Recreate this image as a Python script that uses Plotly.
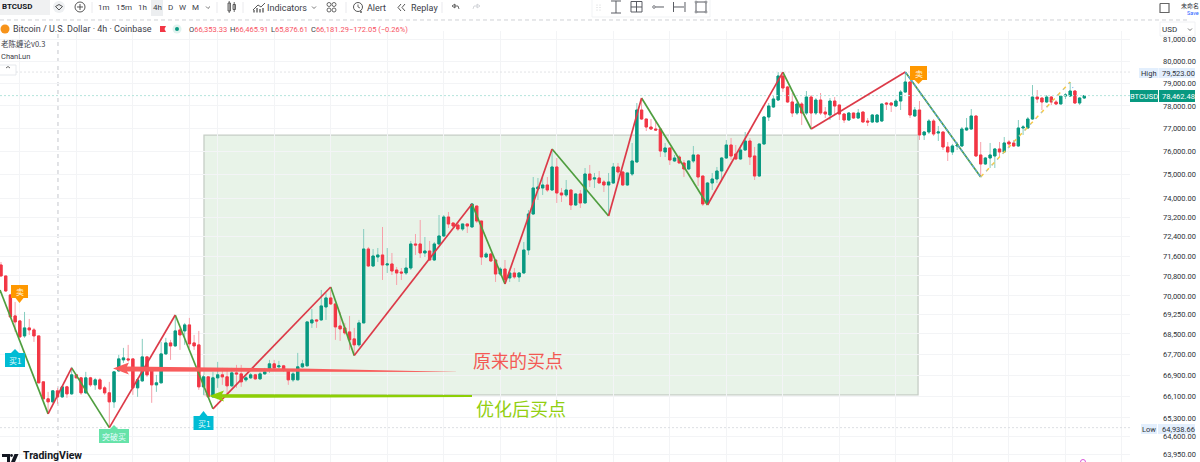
import math
import plotly.graph_objects as go

# ---- data ----
opens = [71245,70800,70039,69207,69010,68423,68735,68657,68423,66655,
66013,65900,66314,66088,66466,66201,66921,66807,66239,66807,
66541,66731,66428,66239,65900,67074,67495,67533,67533,66428,
66693,67610,67112,66541,66617,67726,68151,68035,68657,68618,
68853,68151,68074,66466,66845,66088,66807,66921,66845,66504,
66997,66959,66731,66807,66921,66769,66959,67150,67342,67227,
67265,67112,66731,66731,67227,67265,68931,69049,69049,69561,
69920,69681,68813,68735,68579,68307,68074,68931,71897,71204,
71570,71652,71245,71286,71042,70961,70921,71123,72103,72103,
71734,71815,71448,72103,72432,73220,72970,72887,72720,72929,
72804,73680,73053,71570,71693,71448,70880,71082,70720,70921,
70760,70921,71856,73345,74397,74440,74567,74355,75336,74228,
74144,74355,73722,74186,73807,75036,74822,74865,74695,74567,
74652,75336,75121,74567,75036,75551,77822,77424,77072,76984,
76984,75983,76156,75594,75767,75508,75250,75594,75853,74950,
73765,74652,74822,75164,75723,76286,75896,75680,76069,76460,
75810,74950,76330,77513,77955,78267,79345,78849,78178,77689,
78089,77689,78400,77689,78267,77733,77601,78222,78044,77645,
77380,77689,77468,77733,77336,77292,77292,77336,78133,78133,
78000,78222,78624,79074,77557,77822,76722,76853,77336,76809,
76853,76200,75983,76243,76243,76940,76984,77557,75853,75465,
75723,75810,76113,75983,76417,76374,76243,77028,77028,77424,
78400,78356,78178,78400,78178,78089,78445,78445,78669,78133,78356]
closes = [70800,70198,69167,68971,68385,68735,68657,68423,66617,66013,
65900,66314,66088,66466,66201,66921,66807,66239,66807,66541,
66731,66390,66239,65900,67036,67533,67572,67495,66428,66731,
67610,66921,66541,66617,67726,68151,68035,68618,68462,68853,
68113,68035,66466,66845,66088,66807,66921,66845,66504,66997,
66959,66655,66807,66921,66769,66959,67036,67342,67188,67265,
67112,66731,66959,67227,67342,68971,69049,69010,69601,69920,
69681,68774,68696,68540,68268,68074,68931,71897,71204,71611,
71652,71245,71286,71002,70921,70921,71123,72103,72062,71734,
71815,71448,72103,72432,73220,72929,72845,72720,72929,72845,
73765,73053,71570,71693,71408,70880,71082,70639,70921,70760,
70921,71856,73345,74440,74482,74567,74355,75336,74228,74144,
74355,73722,74186,73807,75036,74780,74865,74652,74567,74695,
75336,75121,74567,75079,75594,77822,77424,77072,76984,76940,
76026,76156,75637,75723,75508,75250,75594,75853,74907,73765,
74652,74822,75164,75723,76286,75810,75680,76069,76460,75767,
74950,76330,77513,78000,78312,79345,78804,78178,77689,78089,
77689,78400,77689,78267,77689,77645,78222,78000,77645,77380,
77689,77468,77689,77292,77292,77601,77601,78089,78089,78044,
78222,78624,79074,77601,77822,76722,76853,77336,76766,76853,
76200,75983,76243,76286,76984,77028,77557,75810,75465,75723,
75853,76113,75983,76374,76330,76243,77028,77072,77424,78400,
78312,78178,78400,78178,78089,78445,78490,78669,78133,78356,78462.48]
highs = [71367,70800,70079,69761,69049,69364,69088,68735,68423,66655,
66276,66314,66428,66504,66504,67227,66921,66845,67036,66845,
66807,66807,66504,66655,67036,67688,67958,68074,67533,66807,
68307,67649,67112,66921,68190,68346,68268,69246,68735,68931,
69128,68462,68618,66921,66845,67036,67418,67188,67188,67188,
67303,67303,66921,66997,66959,67036,67188,67495,67495,67457,
67303,67112,67036,67764,67495,68971,69482,69088,70238,70119,
70238,69681,69364,68931,69207,68735,69049,72720,71979,71897,
71938,72804,71938,71734,71164,71123,71530,72226,72514,73095,
72391,72226,72185,73303,73303,73429,72970,73012,72929,72929,
73807,73680,73053,71775,71734,71448,71164,71448,71042,71123,
70961,72185,73512,74907,74865,74907,74907,76069,75723,74440,
74780,74355,74228,74355,75293,75422,75079,75164,74780,75079,
75509,75509,75164,75079,76374,78133,78267,77424,77424,77292,
77028,76374,76156,75853,75853,75637,75637,76243,75853,74950,
74695,75079,75336,75767,76504,76591,76286,76286,76853,76591,
76200,76330,77557,78133,78445,79523,79523,78894,78580,78178,
78178,78669,78490,78356,78580,77955,78356,78400,78044,77689,
77733,77689,77866,77733,77468,77645,77645,78089,78178,78178,
78312,78714,79523,79074,77955,78222,76896,77424,77424,77116,
76853,76417,76330,76417,77072,77468,77866,77557,76417,75767,
76374,76156,76417,76635,76504,76504,77380,77160,77513,78939,
78714,78356,78490,78445,78267,78490,78580,79074,78714,78400,78490]
lows = [70800,70158,69128,68579,68346,68346,68462,68190,66617,66013,
65526,65863,65825,66050,66050,66164,66807,66164,66201,66466,
66352,66352,66164,64938.66,65676,67036,67380,67418,66164,66088,
66655,66845,65863,66276,66617,67688,67495,67996,67880,68074,
67958,67880,66352,66164,66088,66050,66428,66541,66164,66466,
66428,66466,66655,66769,66731,66731,66921,66997,67150,67150,
67036,66541,66655,66731,67188,67265,68735,68735,69010,69049,
69641,68268,68229,68462,67880,67688,67996,68931,71164,71164,
71367,70639,70921,70840,70438,70639,70840,71042,71652,71530,
71570,71408,71408,72062,72391,72762,72762,72638,72638,72555,
72804,72970,71245,71530,71367,70559,70800,70478,70559,70680,
70559,70880,71652,73303,73933,74144,74271,74313,73807,73849,
74060,73512,73680,73596,73807,74482,74440,74652,74271,73303,
74610,74780,74525,74525,74950,75509,77380,76896,76940,76896,
75767,75767,75422,75551,75508,74907,75207,75508,74525,73680,
73722,74355,74652,74780,75680,75637,75637,75637,76026,75422,
74780,74907,76286,77336,77911,78222,78624,78133,77513,77601,
77160,77601,77028,77601,77601,77468,77380,77601,77380,77248,
77336,77424,77424,77292,77116,77248,77292,77292,77822,77733,
77955,77822,78580,77468,77513,76504,76504,76766,76678,76461,
76069,75594,75853,76069,76200,76896,76940,75767,74907,75422,
75293,75293,75767,75940,76156,76200,76200,76722,76984,77380,
78133,77822,78133,78044,78044,78089,78312,78400,78089,78044,78312]
assert len(opens) == len(closes) == len(highs) == len(lows) == 231

zig_bars = [-0.2,10,15,23,37,45,70,75,100,107,117,129,136,150,166,172,192,208]
zig_prices = [70238,65452,67190,64938.66,69245,65640,70358,67660,73765,70478,76112,73262,78357,73722,79523,76984,79523,74908]
projected_bars = [208,227,228]
projected_prices = [74908,79072,78622]

y_ticks = [81000,80000,79000,78000,77000,76000,75000,74000,73200,72400,71600,70800,70000,
           69250,68500,67700,66900,66100,65300,64600,63950]
grid_bars = [4,16,28,40,46,58,70,82,94,106,118,130,142,154,166,178,190,202,214,226,238]
price_high = 79523.00
price_low = 64938.66
price_last = 78462.48
box_bars = [43.1,194.7]
box_prices = [76720,66164]
price_min = 63680
price_max = 81405
bar_min = -0.21
bar_max = 239.7
session_bar = 12.1

W, H = 1200, 462
UP, DOWN = "#089981", "#f23645"
FONT = "Roboto"
CJK = "Noto Sans CJK SC"
indices = list(range(len(opens)))

fig = go.Figure()
# price lines, drawn first
for price, col in [(price_high, "#e2e3e6"), (price_low, "#dddfe3"), (price_last, "#b4e4db")]:
    fig.add_trace(go.Scatter(x=[bar_min, bar_max], y=[price, price], mode="lines",
                             line=dict(color=col, width=1, dash="2px,2px"), showlegend=False, hoverinfo="skip"))
# pale wicks
fig.add_trace(go.Candlestick(x=indices, open=opens, high=highs, low=lows, close=closes,
    increasing=dict(line=dict(color="#86cdbf", width=1), fillcolor="#86cdbf"),
    decreasing=dict(line=dict(color="#f7a0aa", width=1), fillcolor="#f7a0aa"),
    whiskerwidth=0, showlegend=False, hoverinfo="skip"))
# solid bodies
body_hi = [max(o, c) for o, c in zip(opens, closes)]
body_lo = [min(o, c) for o, c in zip(opens, closes)]
fig.add_trace(go.Candlestick(x=indices, open=opens, high=body_hi, low=body_lo, close=closes,
    increasing=dict(line=dict(color=UP, width=1), fillcolor=UP),
    decreasing=dict(line=dict(color=DOWN, width=1), fillcolor=DOWN),
    whiskerwidth=0, showlegend=False, hoverinfo="skip"))

# zigzag strokes
ux, uy, dx, dy = [], [], [], []
for k in range(len(zig_bars) - 1):
    rising = zig_prices[k + 1] > zig_prices[k]
    xs, ys = (ux, uy) if rising else (dx, dy)
    xs += [zig_bars[k], zig_bars[k + 1], None]
    ys += [zig_prices[k], zig_prices[k + 1], None]
fig.add_trace(go.Scatter(x=dx, y=dy, mode="lines", line=dict(color="#4f9e3f", width=1.7), showlegend=False, hoverinfo="skip"))
fig.add_trace(go.Scatter(x=ux, y=uy, mode="lines", line=dict(color="#dc3a48", width=1.7), showlegend=False, hoverinfo="skip"))
fig.add_trace(go.Scatter(x=zig_bars[-2:], y=zig_prices[-2:], mode="lines",
    line=dict(color="#5aa5e6", width=1.2, dash="3px,2px"), showlegend=False, hoverinfo="skip"))
fig.add_trace(go.Scatter(x=projected_bars[:2], y=projected_prices[:2], mode="lines",
    line=dict(color="#f6c945", width=1.5, dash="4px,4px"), showlegend=False, hoverinfo="skip"))
fig.add_trace(go.Scatter(x=projected_bars, y=projected_prices, mode="lines",
    line=dict(color="#8fc0f0", width=1.2, dash="1px,7px"), showlegend=False, hoverinfo="skip"))

shapes, notes = [], []

def fx(x): return x / W
def fy(y): return 1 - y / H

def path(pts, close=False):
    s = "M " + " L ".join(f"{fx(x):.5f} {fy(y):.5f}" for x, y in pts)
    return s + (" Z" if close else "")

def poly(pts, fill, layer="above"):
    shapes.append(dict(type="path", xref="paper", yref="paper", path=path(pts, True), fillcolor=fill,
                       line=dict(width=0), layer=layer))

def stroke(pts, color="#3c4048", w=1, close=False, dash=None, layer="above"):
    line = dict(color=color, width=w)
    if dash: line["dash"] = dash
    shapes.append(dict(type="path", xref="paper", yref="paper", path=path(pts, close), line=line, layer=layer))

def rect(x0, y0, x1, y1, fill="rgba(0,0,0,0)", color=None, w=0, layer="above"):
    shapes.append(dict(type="rect", xref="paper", yref="paper", x0=fx(x0), x1=fx(x1), y0=fy(y0), y1=fy(y1),
                       fillcolor=fill, line=dict(color=color or fill, width=w), layer=layer))

def circ(cx, cy, r, fill="rgba(0,0,0,0)", color=None, w=0):
    shapes.append(dict(type="circle", xref="paper", yref="paper", x0=fx(cx - r), x1=fx(cx + r), y0=fy(cy - r), y1=fy(cy + r),
                       fillcolor=fill, line=dict(color=color or fill, width=w)))

def text(x, y, s, size=9, color="#2e3238", anchor="left", family=FONT):
    notes.append(dict(xref="paper", yref="paper", x=fx(x), y=fy(y), text=s, showarrow=False, xanchor=anchor, yanchor="middle",
                      font=dict(size=size, color=color, family=family), borderpad=0, borderwidth=0))

# trade box in data coordinates
shapes.append(dict(type="rect", xref="x", yref="y", x0=box_bars[0], x1=box_bars[1], y0=box_prices[1], y1=box_prices[0],
                   fillcolor="rgba(76,165,80,0.13)", line=dict(color="#c6cec6", width=1.3), layer="below"))
# session break
shapes.append(dict(type="line", xref="x", yref="y domain", x0=session_bar, x1=session_bar, y0=0, y1=1,
                   line=dict(color="#c4c6cc", width=1, dash="4px,4px"), layer="below"))

# top separator
stroke([(0, 20), (1190, 20)], "#cfd1d5", 1, dash="4px,3px")

# hand-drawn arrows
poly([(113, 368.5), (129, 362.5), (127, 366.5), (300, 368.5), (462, 372), (300, 371.8), (127, 371.5), (129, 374.5)], "#f85c5c")
poly([(209, 396), (224, 390.5), (222, 394.2), (472, 395), (472, 397), (222, 397.8), (224, 401.5)], "#8ccf05")
text(473, 360, "原来的买点", 18, "#f35a55", family=CJK)
text(476, 408, "优化后买点", 18, "#92cf10", family=CJK)

# signal labels
def label_down(cx, y0, y1, tip, s, col, hw):
    rect(cx - hw, y0, cx + hw, y1, col)
    poly([(cx - 4, y1), (cx + 4, y1), (cx, tip)], col)
    text(cx, (y0 + y1) / 2, s, 8, "#fff3dc", "center", CJK)

def label_up(cx, y0, y1, tip, s, col, hw):
    rect(cx - hw, y0, cx + hw, y1, col)
    poly([(cx - 4, y0), (cx + 4, y0), (cx, tip)], col)
    text(cx, (y0 + y1) / 2, s, 8, "#e6fbff", "center", CJK)

label_down(19.5, 285, 298, 303, "卖", "#ff9800", 8.5)
label_down(918.5, 66, 80, 84, "卖", "#ff9800", 8.5)
label_up(15, 353, 367, 349, "买1", "#00bcd4", 10)
label_up(203.5, 416, 430, 411, "买1", "#00bcd4", 10)
label_up(114, 429, 443, 425, "突破买", "#66e3a9", 15)

# right scale overlays
rect(1160, 22, 1195, 36, "#ffffff", "#eceef1", 0.8)
text(1162, 29, "USD", 8, "#2e3238")
stroke([(1188, 28.5), (1190, 30.5), (1192, 28.5)], "#555", 0.8)
rect(1139, 68, 1158, 78, "#e3effd"); text(1148.5, 73, "High", 7.5, "#2e3238", "center")
rect(1158.5, 68, 1195, 78, "#e3effd"); text(1162, 73, "79,523.00", 7.5, "#2e3238")
rect(1130, 90, 1158, 102, UP); text(1144, 96, "BTCUSD", 7.5, "#ffffff", "center")
rect(1159, 90, 1195, 102, UP); text(1162, 96, "78,462.48", 7.5, "#ffffff")
rect(1141, 424, 1157, 434, "#e3effd"); text(1149, 429, "Low", 7.5, "#2e3238", "center")
rect(1158, 424, 1195, 434, "#e3effd"); text(1162, 429, "64,938.66", 7.5, "#2e3238")

# toolbar
rect(0, 0, 50, 15, "#f0f1f2")
text(2, 7, "<b>BTCUSD</b>", 8, "#131722")
circ(59, 7, 6, "#eef0f2")
stroke([(55.5, 6.5), (59, 4.5), (62.5, 6.5), (59, 10), (55.5, 6.5)], "#444", 0.9)
circ(80, 7, 5, "#ffffff", "#444", 0.9)
stroke([(77, 7), (83, 7)], "#444", 0.9); stroke([(80, 4), (80, 10)], "#444", 0.9)
for sx in (92, 217, 243, 346, 442):
    stroke([(sx, 2), (sx, 13)], "#e4e5e8", 0.8)
for tx, s in [(104, "1m"), (123.5, "15m"), (142, "1h"), (157, "4h"), (170, "D"), (182.5, "W"), (195, "M")]:
    if s == "4h":
        rect(151, 0, 163, 16, "#eceef0")
    text(tx, 7.5, s, 8, "#3c4048", "center")
stroke([(206, 6.5), (208, 8.5), (210, 6.5)], "#555", 0.8)
# candle icon
rect(228, 3, 230.5, 11, "#ffffff", "#444", 0.8); stroke([(229.2, 1), (229.2, 13)], "#444", 0.8)
rect(233, 4.5, 235.5, 9.5, "#ffffff", "#444", 0.8); stroke([(234.2, 2), (234.2, 12)], "#444", 0.8)
# indicators icon
stroke([(253, 10), (258, 5), (261, 7), (265, 3)], "#444", 0.9)
stroke([(254, 12.5), (254, 10)], "#444", 1.2); stroke([(257, 12.5), (257, 8)], "#444", 1.2); stroke([(260, 12.5), (260, 9)], "#444", 1.2); stroke([(263, 12.5), (263, 8)], "#444", 1.2)
text(267, 7.5, "Indicators", 9, "#3c4048")
stroke([(312, 6.5), (314, 8.5), (316, 6.5)], "#555", 0.8)
for gx, gy in [(329, 4.5), (334, 4.5), (329, 10), (334, 10)]:
    circ(gx, gy, 2, "#ffffff", "#444", 0.8)
circ(358, 7, 4.5, "#ffffff", "#444", 0.9)
stroke([(358, 4.5), (358, 7), (360, 8)], "#444", 0.8); stroke([(361, 11), (361, 13)], "#444", 0.8); stroke([(360, 12), (362, 12)], "#444", 0.8)
text(367, 7.5, "Alert", 9, "#3c4048")
stroke([(401, 4), (398, 7.5), (401, 11)], "#444", 0.9); stroke([(405, 4), (402, 7.5), (405, 11)], "#444", 0.9)
text(411, 7.5, "Replay", 9, "#3c4048")
stroke([(452, 6), (455, 4), (455, 8), (452, 6)], "#444", 0.8); stroke([(454, 6), (458, 6), (459, 9)], "#444", 0.8)
stroke([(480, 6), (477, 4), (477, 8), (480, 6)], "#c9cbd0", 0.8); stroke([(478, 6), (474, 6), (473, 9)], "#c9cbd0", 0.8)

# floating drawing toolbar
rect(592, -3, 710, 17, "#ffffff", "#eef0f2", 0.8)
for ox in (597, 600):
    for oy in (5, 7.5, 10):
        circ(ox, oy, 0.5, "#c4c6ca")
A = "#5a5d64"
stroke([(611, 1), (621, 1)], A, 1); stroke([(616, 1), (616, 13)], A, 1); stroke([(611, 13), (621, 13)], A, 1)
stroke([(631, 1.5), (642, 1.5), (642, 12), (631, 12), (631, 1.5)], A, 1); stroke([(636.5, 1.5), (636.5, 12)], A, 1); stroke([(631, 7), (642, 7)], A, 1)
circ(654, 7, 1.3, "#fff", A, 0.8); stroke([(655.5, 7), (664, 7)], A, 1)
stroke([(673.5, 2), (673.5, 12)], A, 1); stroke([(685, 2), (685, 12)], A, 1); stroke([(674, 7), (684, 7)], A, 1)
stroke([(696, 2), (706, 2), (706, 12), (696, 12), (696, 2)], A, 1)
for cx_, cy_ in [(696, 2), (706, 2), (696, 12), (706, 12)]:
    circ(cx_, cy_, 1, "#fff", A, 0.7)

# top right
stroke([(1160, 3.5), (1169, 3.5), (1169, 12.5), (1160, 12.5), (1160, 3.5)], "#666", 1.2)
text(1181, 5, "未命名", 6, "#2e3238", family=CJK)
text(1187, 13, "Save", 5.5, "#2962ff")

# legend
circ(5, 29, 4.5, "#f7931a")
text(13, 29, "Bitcoin / U.S. Dollar · 4h · Coinbase", 9, "#3c4048")
poly([(160, 26), (166, 26), (164.5, 29), (166, 32), (160, 32)], "#f23645")
circ(177, 29, 4.5, "#dff2ee")
circ(177, 29, 2, UP)
ohlc = [(187, "O", "66,353.33"), (228, "H", "66,465.91"), (269, "L", "65,876.61"), (308.5, "C", "66,181.29")]
for ox, lab, val in ohlc:
    notes.append(dict(xref="paper", yref="paper", x=fx(ox), y=fy(29), xanchor="left", yanchor="middle", showarrow=False,
                      text=f"<span style='color:#3c4048'>{lab}</span>{val}", font=dict(size=7.5, color="#f7525f", family=FONT)))
text(349, 29, "−172.05 (−0.26%)", 7.5, "#f7525f")
text(1, 43, "老陈缠论v0.3", 7.5, "#3c4048", family=CJK)
text(1, 56, "ChanLun", 7.5, "#3c4048")
rect(-1, 65, 16, 75, "#ffffff", "#e0e3e8", 0.8)
stroke([(6, 68), (8, 66.5), (10, 68)], "#444", 0.8)

# bottom logo and clipped badge
poly([(2, 454), (10, 454), (10, 462), (7, 462), (7, 457), (2, 457)], "#131722")
poly([(11, 462), (14.5, 454), (18.5, 454), (15, 462)], "#131722")
circ(11.5, 455.5, 1.4, "#131722")
text(23, 455.5, "<b>TradingView</b>", 10.5, "#131722")
circ(1083, 462, 2.5, "rgba(0,0,0,0)", "#d957d9", 1)

fig.update_layout(
    width=W, height=H, margin=dict(l=0, r=0, t=0, b=0), autosize=False,
    paper_bgcolor="#ffffff", plot_bgcolor="#ffffff", showlegend=False,
    shapes=shapes, annotations=notes,
    xaxis=dict(domain=[0, 1130 / W], range=[bar_min, bar_max], rangeslider=dict(visible=False),
               tickmode="array", tickvals=grid_bars, showticklabels=False, ticks="", showgrid=True,
               gridcolor="#f3f4f6", gridwidth=1, zeroline=False, showline=False, automargin=False),
    yaxis=dict(domain=[0, 431 / H], type="log", side="right", range=[math.log10(price_min), math.log10(price_max)],
               tickmode="array", tickvals=y_ticks, ticktext=[f"{v:,.2f}" for v in y_ticks], ticks="",
               ticklabelstandoff=32, tickfont=dict(size=7.5, color="#2e3238", family=FONT),
               showgrid=True, gridcolor="#f3f4f6", gridwidth=1, zeroline=False, showline=False, automargin=False),
)
fig.write_html("out.html", config={"displayModeBar": False},
               post_script="document.body.style.margin='0';document.body.style.overflow='hidden';")
